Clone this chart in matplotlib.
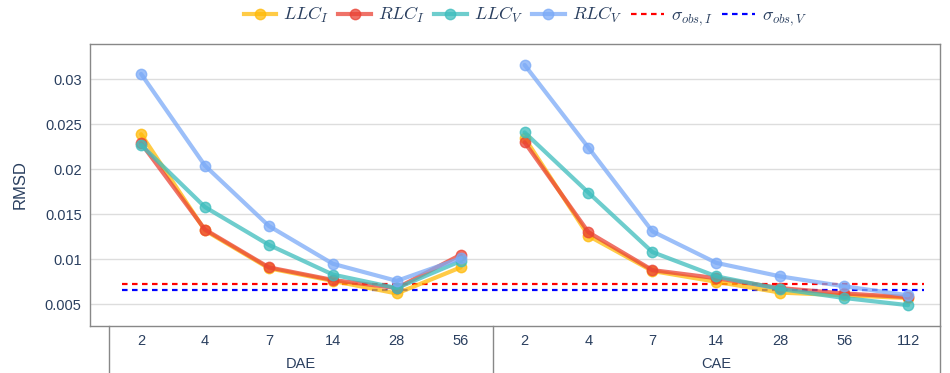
import numpy as np
import matplotlib
matplotlib.use("Agg")
import matplotlib.pyplot as plt
from matplotlib.lines import Line2D
import matplotlib.transforms as mtransforms

plt.rcParams["font.family"] = ["Liberation Sans", "DejaVu Sans"]
plt.rcParams["mathtext.fontset"] = "cm"

TXT = "#2a3f5f"

# categories (multi-level x axis)
groups = ["DAE", "CAE"]
dae_ticks = ["2", "4", "7", "14", "28", "56"]
cae_ticks = ["2", "4", "7", "14", "28", "56", "112"]

# RMSD values, DAE then CAE
llc_i = [0.0239, 0.0132, 0.0090, 0.0076, 0.0062, 0.0091,
         0.0235, 0.0126, 0.0087, 0.0075, 0.0063, 0.0060, 0.0057]
rlc_i = [0.0229, 0.0133, 0.0091, 0.0077, 0.0068, 0.0105,
         0.0230, 0.0130, 0.0088, 0.0079, 0.0068, 0.0062, 0.0058]
llc_v = [0.0227, 0.0158, 0.0116, 0.0083, 0.0068, 0.0098,
         0.0241, 0.0174, 0.0108, 0.0081, 0.0067, 0.0057, 0.0049]
rlc_v = [0.0306, 0.0204, 0.0137, 0.0095, 0.0076, 0.0101,
         0.0316, 0.0224, 0.0131, 0.0096, 0.0081, 0.0070, 0.0060]
sigma_obs_i = 0.0072
sigma_obs_v = 0.0066

series = [
    (r"$LLC_I$", llc_i, "#FFBA08"),
    (r"$RLC_I$", rlc_i, "#EA4335"),
    (r"$LLC_V$", llc_v, "#3DBDBD"),
    (r"$RLC_V$", rlc_v, "#7BAAF7"),
]

fig = plt.figure(figsize=(9.5, 3.73), dpi=100)
ax = fig.add_axes([0.0947, 0.1268, 0.8948, 0.7552])

tick_labels = dae_ticks + cae_ticks
x = np.arange(len(tick_labels))

handles = []
for label, vals, col in series:
    ax.plot(x[:6], vals[:6], color=col, lw=3, alpha=0.75, marker="o", ms=7.5,
            solid_capstyle="round", zorder=3)
    ax.plot(x[6:], vals[6:], color=col, lw=3, alpha=0.75, marker="o", ms=7.5,
            solid_capstyle="round", zorder=3)
    handles.append(Line2D([], [], color=col, lw=3, alpha=0.75, marker="o", ms=7.5, label=label))

for val, col, lab in [(sigma_obs_i, "#FF0000", r"$\sigma_{obs,I}$"),
                      (sigma_obs_v, "#0000FF", r"$\sigma_{obs,V}$")]:
    ax.plot([-0.3, 12.25], [val, val], color=col, lw=1.6, dashes=(2.5, 2), zorder=2)
    handles.append(Line2D([], [], color=col, lw=1.6, dashes=(2.5, 2), label=lab))

ax.set_xlim(-0.8, 12.5)
ax.set_ylim(0.00262, 0.03392)
ax.set_yticks([0.005, 0.01, 0.015, 0.02, 0.025, 0.03])
ax.set_yticklabels(["0.005", "0.01", "0.015", "0.02", "0.025", "0.03"])
ax.set_xticks(x)
ax.set_xticklabels(tick_labels)
ax.tick_params(axis="both", length=0, labelsize=10.5, labelcolor=TXT, pad=6)
ax.tick_params(axis="x", pad=6)
ax.grid(axis="y", color="#dddddd", lw=1)
ax.set_axisbelow(True)
for sp in ax.spines.values():
    sp.set_color("#888888")
    sp.set_linewidth(1)

ax.set_ylabel("RMSD", fontsize=12, color=TXT, labelpad=12)

# group level of the category axis
trans = mtransforms.blended_transform_factory(ax.transData, ax.transAxes)
for xd in [-0.5, 5.5, 12.5]:
    ax.plot([xd, xd], [0, -0.17], transform=trans, color="#888888", lw=1, clip_on=False)
ax.text(2.5, -0.11, groups[0], transform=trans, ha="center", va="top", fontsize=10.5, color=TXT)
ax.text(9.0, -0.11, groups[1], transform=trans, ha="center", va="top", fontsize=10.5, color=TXT)

leg = fig.legend(handles=handles, loc="upper center", bbox_to_anchor=(0.553, 1.03), ncol=6,
                 frameon=False, fontsize=13, handlelength=1.8, handletextpad=0.4,
                 columnspacing=0.5)
for t in leg.get_texts():
    t.set_color(TXT)

fig.savefig("out.png", dpi=100)
